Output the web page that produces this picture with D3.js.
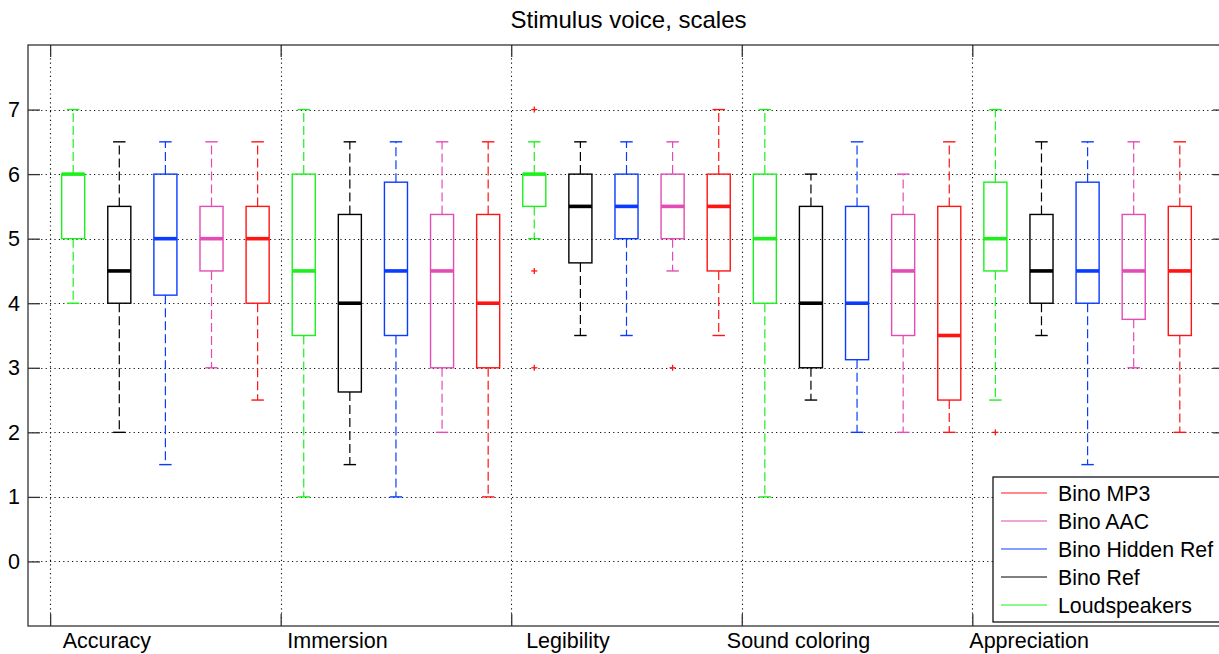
<!DOCTYPE html>
<html>
<head>
<meta charset="utf-8">
<script src="https://cdn.jsdelivr.net/npm/d3@7"></script>
<style>
  body { margin: 0; background: #fff; }
  svg { display: block; font-family: "Liberation Sans", Arial, sans-serif; }
</style>
</head>
<body>
<div id="plot"></div>
<script>
// scales on the x axis, boxes per scale in this order
const categories = ["Accuracy", "Immersion", "Legibility", "Sound coloring", "Appreciation"];
const systems = ["Loudspeakers", "Bino Ref", "Bino Hidden Ref", "Bino AAC", "Bino MP3"];
const legendOrder = ["Bino MP3", "Bino AAC", "Bino Hidden Ref", "Bino Ref", "Loudspeakers"];
const yTicks = [0, 1, 2, 3, 4, 5, 6, 7];

// one row per category, one value per system
const lowWhisker = [
  [4, 2, 1.5, 3, 2.5],
  [1, 1.5, 1, 2, 1],
  [5, 3.5, 3.5, 4.5, 3.5],
  [1, 2.5, 2, 2, 2],
  [2.5, 3.5, 1.5, 3, 2]
];
const q1 = [
  [5, 4, 4.125, 4.5, 4],
  [3.5, 2.625, 3.5, 3, 3],
  [5.5, 4.625, 5, 5, 4.5],
  [4, 3, 3.125, 3.5, 2.5],
  [4.5, 4, 4, 3.75, 3.5]
];
const medians = [
  [6, 4.5, 5, 5, 5],
  [4.5, 4, 4.5, 4.5, 4],
  [6, 5.5, 5.5, 5.5, 5.5],
  [5, 4, 4, 4.5, 3.5],
  [5, 4.5, 4.5, 4.5, 4.5]
];
const q3 = [
  [6, 5.5, 6, 5.5, 5.5],
  [6, 5.375, 5.875, 5.375, 5.375],
  [6, 6, 6, 6, 6],
  [6, 5.5, 5.5, 5.375, 5.5],
  [5.875, 5.375, 5.875, 5.375, 5.5]
];
const highWhisker = [
  [7, 6.5, 6.5, 6.5, 6.5],
  [7, 6.5, 6.5, 6.5, 6.5],
  [6.5, 6.5, 6.5, 6.5, 7],
  [7, 6, 6.5, 6, 6.5],
  [7, 6.5, 6.5, 6.5, 6.5]
];
// outliers: [category index, system index, value]
const outliers = [
  [2, 0, 7], [2, 0, 4.5], [2, 0, 3],
  [2, 3, 3],
  [4, 0, 2]
];

const color = d3.scaleOrdinal()
  .domain(systems)
  .range(["#1cf01c", "#000000", "#0a3cff", "#e24cb4", "#ff1414"]);

const width = 1219, height = 654;
const mLeft = 28, mRight = 1225, mTop = 45, mBottom = 626;

const svg = d3.select("div#plot")
  .append("svg")
  .attr("width", width)
  .attr("height", height);

const x = d3.scaleLinear().domain([-0.48, 25.48]).range([mLeft, mRight]);
const y = d3.scaleLinear().domain([-1, 8]).range([mBottom, mTop]);
const slot = x(1) - x(0);

// grid
const grid = svg.append("g")
  .attr("stroke", "#111")
  .attr("stroke-width", 1.1)
  .attr("stroke-dasharray", "1.2,3.2");

grid.selectAll(".hgrid")
  .data(yTicks)
  .join("line")
  .attr("class", "hgrid")
  .attr("x1", mLeft).attr("x2", mRight)
  .attr("y1", d => Math.round(y(d)) + 0.5)
  .attr("y2", d => Math.round(y(d)) + 0.5);

grid.selectAll(".vgrid")
  .data(categories)
  .join("line")
  .attr("class", "vgrid")
  .attr("y1", mTop).attr("y2", mBottom)
  .attr("x1", (d, i) => Math.round(x(i * 5)) + 0.5)
  .attr("x2", (d, i) => Math.round(x(i * 5)) + 0.5);

// flatten the box stats
const boxes = [];
categories.forEach(function(cat, c) {
  systems.forEach(function(sys, s) {
    boxes.push({
      c: c, s: s, sys: sys,
      pos: c * 5 + s + 0.5,
      lo: lowWhisker[c][s], q1: q1[c][s], med: medians[c][s],
      q3: q3[c][s], hi: highWhisker[c][s]
    });
  });
});

const g = svg.append("g");
const bw = slot * 0.5, cw = slot * 0.27;

const b = g.selectAll(".box")
  .data(boxes)
  .join("g")
  .attr("class", "box")
  .attr("stroke", d => color(d.sys))
  .attr("fill", "none");

// whiskers (dashed)
b.append("line")
  .attr("x1", d => x(d.pos)).attr("x2", d => x(d.pos))
  .attr("y1", d => y(d.q3)).attr("y2", d => y(d.hi))
  .attr("stroke-width", 1.2)
  .attr("stroke-dasharray", "9,4");
b.append("line")
  .attr("x1", d => x(d.pos)).attr("x2", d => x(d.pos))
  .attr("y1", d => y(d.q1)).attr("y2", d => y(d.lo))
  .attr("stroke-width", 1.2)
  .attr("stroke-dasharray", "9,4");

// caps
b.selectAll(".cap")
  .data(d => [d.lo, d.hi].map(v => ({ pos: d.pos, v: v })))
  .join("line")
  .attr("class", "cap")
  .attr("x1", d => x(d.pos) - cw / 2).attr("x2", d => x(d.pos) + cw / 2)
  .attr("y1", d => y(d.v)).attr("y2", d => y(d.v))
  .attr("stroke-width", 1.4);

// box
b.append("rect")
  .attr("x", d => x(d.pos) - bw / 2)
  .attr("width", bw)
  .attr("y", d => y(d.q3))
  .attr("height", d => y(d.q1) - y(d.q3))
  .attr("stroke-width", 1.4);

// median
b.append("line")
  .attr("x1", d => x(d.pos) - bw / 2).attr("x2", d => x(d.pos) + bw / 2)
  .attr("y1", d => y(d.med)).attr("y2", d => y(d.med))
  .attr("stroke-width", 3.6);

// outliers
const o = g.selectAll(".outlier")
  .data(outliers)
  .join("g")
  .attr("class", "outlier")
  .attr("transform", d => `translate(${x(d[0] * 5 + d[1] + 0.5)},${y(d[2])})`)
  .attr("stroke", "#ff1414")
  .attr("stroke-width", 1.3);
o.append("line").attr("x1", -3).attr("x2", 3);
o.append("line").attr("y1", -3).attr("y2", 3);

// axes
const yAxis = svg.append("g")
  .attr("transform", `translate(${mLeft},0)`)
  .call(d3.axisLeft(y).tickValues(yTicks).tickSize(-12).tickPadding(8));
const yAxisR = svg.append("g")
  .attr("transform", `translate(${mRight},0)`)
  .call(d3.axisRight(y).tickValues(yTicks).tickSize(-12).tickFormat(""));
const xAxis = svg.append("g")
  .attr("transform", `translate(0,${mBottom})`)
  .call(d3.axisBottom(x).tickValues(categories.map((d, i) => i * 5))
    .tickSize(-12).tickPadding(7)
    .tickFormat((d, i) => categories[i]));
const xAxisT = svg.append("g")
  .attr("transform", `translate(0,${mTop})`)
  .call(d3.axisTop(x).tickValues(categories.map((d, i) => i * 5))
    .tickSize(-12).tickFormat(""));

[yAxis, yAxisR, xAxis, xAxisT].forEach(function(a) {
  a.select(".domain").remove();
  a.selectAll(".tick line").attr("stroke", "#333").attr("stroke-width", 1.3);
  a.selectAll("text").attr("fill", "#000").style("font-size", "21.5px");
  a.attr("font-family", null);
});
xAxis.selectAll("text").attr("x", slot * 1.22);

// frame
svg.append("rect")
  .attr("x", mLeft).attr("y", mTop)
  .attr("width", mRight - mLeft).attr("height", mBottom - mTop)
  .attr("fill", "none")
  .attr("stroke", "#333")
  .attr("stroke-width", 1.3);

// title
svg.append("text")
  .attr("x", (mLeft + mRight) / 2 + 2)
  .attr("y", 28)
  .attr("text-anchor", "middle")
  .style("font-size", "24px")
  .text("Stimulus voice, scales");

// legend
const legend = svg.append("g").attr("transform", "translate(993,477)");
legend.append("rect")
  .attr("width", 228).attr("height", 145)
  .attr("fill", "#fff")
  .attr("stroke", "#000")
  .attr("stroke-width", 1.2);
const item = legend.selectAll(".item")
  .data(legendOrder)
  .join("g")
  .attr("class", "item")
  .attr("transform", (d, i) => `translate(0,${16 + i * 28})`);
item.append("line")
  .attr("x1", 8).attr("x2", 54)
  .attr("stroke", d => color(d))
  .attr("stroke-width", 1);
item.append("text")
  .attr("x", 65)
  .attr("dy", "0.36em")
  .style("font-size", "21.3px")
  .text(d => d);
</script>
</body>
</html>
